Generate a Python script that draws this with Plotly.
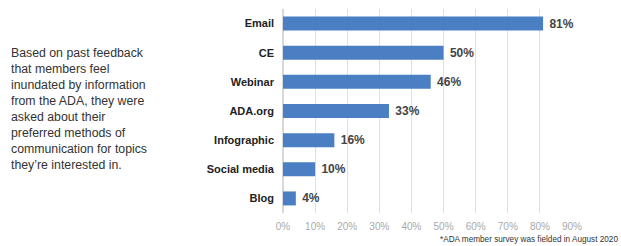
import plotly.graph_objects as go

categories = ["Email", "CE", "Webinar", "ADA.org", "Infographic", "Social media", "Blog"]
values = [81, 50, 46, 33, 16, 10, 4]
value_labels = ["81%", "50%", "46%", "33%", "16%", "10%", "4%"]
tick_vals = [0, 10, 20, 30, 40, 50, 60, 70, 80, 90]
tick_text = ["0%", "10%", "20%", "30%", "40%", "50%", "60%", "70%", "80%", "90%"]
intro_text = ("Based on past feedback<br>that members feel<br>inundated by information<br>"
              "from the ADA, they were<br>asked about their<br>preferred methods of<br>"
              "communication for topics<br>they’re interested in.")
footnote = "*ADA member survey was fielded in August 2020"

FONT = "Liberation Sans, Arial, sans-serif"

fig = go.Figure(go.Bar(
    x=values, y=categories, orientation="h",
    marker=dict(color="#4a80c3", line=dict(width=0)),
    width=0.48,
    text=value_labels, texttemplate=" %{text}", textposition="outside",
    textfont=dict(family=FONT, size=12, color="#444444", weight="bold"),
    cliponaxis=False,
))

fig.update_layout(
    width=621, height=246,
    margin=dict(l=283, r=49, t=9, b=33),
    paper_bgcolor="white", plot_bgcolor="white",
    showlegend=False,
    font=dict(family=FONT),
    xaxis=dict(range=[0, 90], tickvals=tick_vals, ticktext=tick_text,
               showgrid=True, gridcolor="#e0e0e0", gridwidth=1,
               zeroline=True, zerolinecolor="#d8d8d8",
               tickfont=dict(family=FONT, size=10, color="#aaaaaa"),
               ticks="", ticklabelstandoff=6),
    yaxis=dict(categoryorder="array", categoryarray=categories, autorange="reversed",
               tickfont=dict(family=FONT, size=11, color="#222222", weight="bold"),
               ticks="", ticklabelstandoff=8, showgrid=False),
    annotations=[
        dict(text=intro_text, xref="paper", yref="paper", x=-274/289, y=1 - (44 - 9)/204,
             xanchor="left", yanchor="top", align="left", showarrow=False,
             font=dict(family=FONT, size=12.3, color="#333333")),
        dict(text=footnote, xref="paper", yref="paper", x=(620 - 283)/289, y=-(239 - 213)/204,
             xanchor="right", yanchor="middle", align="right", showarrow=False,
             font=dict(family=FONT, size=8.2, color="#333333")),
    ],
)

fig.write_html("out.html", config={"displayModeBar": False},
               post_script="document.body.style.margin='0';document.body.style.overflow='hidden';")
